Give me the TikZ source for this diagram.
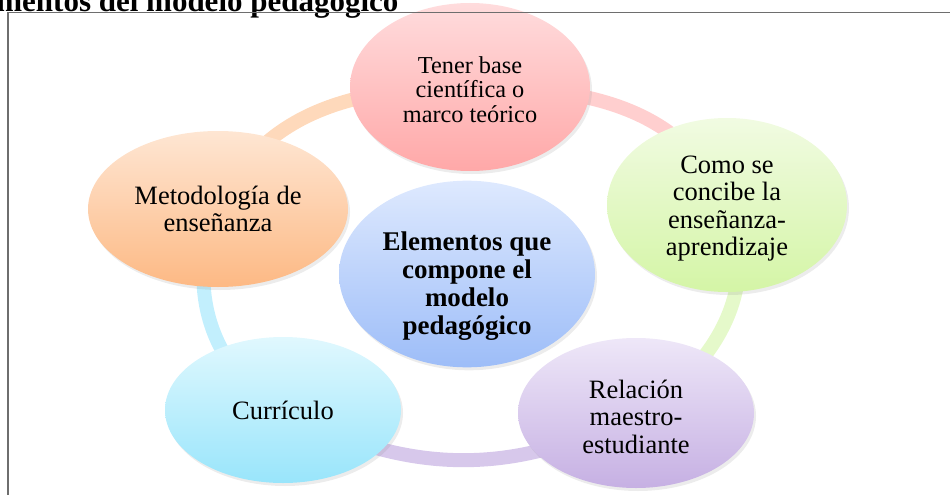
\documentclass[tikz,border=0pt]{standalone}
\usepackage{fontspec}
\setmainfont{Liberation Serif}
\usetikzlibrary{shapes.geometric, shadows, backgrounds}

\definecolor{PinkTop}{HTML}{FFDCDD}
\definecolor{PinkBottom}{HTML}{FFA8A8}
\definecolor{GreenTop}{HTML}{F1FBE2}
\definecolor{GreenBottom}{HTML}{D4F5A6}
\definecolor{PurpleTop}{HTML}{EEE7F8}
\definecolor{PurpleBottom}{HTML}{C6B0E3}
\definecolor{CyanTop}{HTML}{E0F8FE}
\definecolor{CyanBottom}{HTML}{99E5FB}
\definecolor{OrangeTop}{HTML}{FEE6D3}
\definecolor{OrangeBottom}{HTML}{FDB984}
\definecolor{BlueTop}{HTML}{DEE9FE}
\definecolor{BlueBottom}{HTML}{9DBDF8}
\definecolor{FrameGray}{HTML}{6E6E6E}

\begin{document}
\begin{tikzpicture}[x=1pt, y=1pt,
  element/.style = {ellipse, inner sep=0pt, align=center,
                    font=\fontsize{26.5}{27.5}\selectfont,
                    drop shadow={opacity=0.15, shadow xshift=2pt, shadow yshift=-3pt}},
  ring/.style = {line width=14pt}]
  \useasboundingbox (0, 0) rectangle (950, -495);
  \clip (0, 0) rectangle (950, -495);

  % Title, cut by the page.
  \node at (402, -12) [anchor=base east, font=\bfseries\fontsize{31}{36}\selectfont, name=Title] {Elementos del modelo pedagógico};

  % Elements.
  \node at (470, -87) [element, minimum width=240, minimum height=168, top color=PinkTop, bottom color=PinkBottom,
                       font=\fontsize{24.3}{24.5}\selectfont, name=Base] {\rule{0pt}{22pt}Tener base\\científica o\\marco teórico};
  \node at (727, -205) [element, minimum width=240, minimum height=174, top color=GreenTop, bottom color=GreenBottom, name=Ensenanza] {\rule{0pt}{24.5pt}Como se\\concibe la\\enseñanza-\\aprendizaje};
  \node at (636, -413) [element, minimum width=236, minimum height=150, top color=PurpleTop, bottom color=PurpleBottom, name=Relacion] {\rule{0pt}{26pt}Relación\\maestro-\\estudiante};
  \node at (283, -410) [element, minimum width=236, minimum height=146, top color=CyanTop, bottom color=CyanBottom, name=Curriculo] {Currículo};
  \node at (218, -209) [element, minimum width=260, minimum height=156, top color=OrangeTop, bottom color=OrangeBottom, name=Metodologia] {Metodología de\\enseñanza};
  \node at (467, -274) [element, minimum width=256, minimum height=184, top color=BlueTop, bottom color=BlueBottom,
                        font=\bfseries\fontsize{27}{28}\selectfont, name=Modelo] {\rule{0pt}{42pt}Elementos que\\compone el\\modelo\\pedagógico};

  % Ring behind the elements.
  \begin{scope}[on background layer]
    \draw [ring, draw=PinkBottom!55] (Base.center)
               to [out=0, in=114]
               (Ensenanza.center);
    \draw [ring, draw=GreenBottom!60] (Ensenanza.center)
               to [out=-66, in=28]
               (Relacion.center);
    \draw [ring, draw=PurpleBottom!70] (Relacion.center)
               to [out=208, in=-28]
               (Curriculo.center);
    \draw [ring, draw=CyanBottom!60] (Curriculo.center)
               to [out=152, in=246]
               (Metodologia.center);
    \draw [ring, draw=OrangeBottom!55] (Metodologia.center)
               to [out=66, in=180]
               (Base.center);
  \end{scope}

  % Frame.
  \draw [FrameGray, line width=1.2pt] (8, -500) |- (960, -12.5);
\end{tikzpicture}
\end{document}
